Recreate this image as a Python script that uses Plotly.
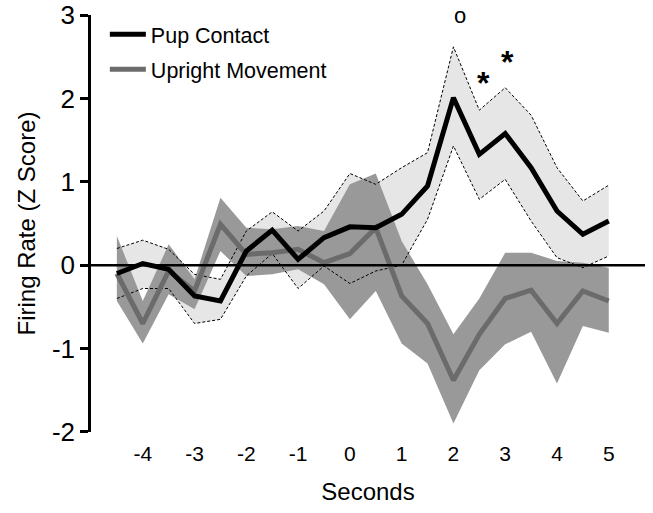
import plotly.graph_objects as go

seconds = [-4.5, -4, -3.5, -3, -2.5, -2, -1.5, -1, -0.5, 0, 0.5, 1, 1.5, 2, 2.5, 3, 3.5, 4, 4.5, 5]

pup = [-0.1, 0.02, -0.05, -0.37, -0.43, 0.17, 0.42, 0.07, 0.33, 0.46, 0.45, 0.61, 0.95, 2.01, 1.33, 1.58, 1.17, 0.65, 0.37, 0.53]
pup_upper = [0.2, 0.3, 0.19, -0.11, -0.17, 0.41, 0.64, 0.41, 0.65, 1.1, 0.97, 1.17, 1.35, 2.62, 1.86, 2.13, 1.8, 1.17, 0.77, 0.96]
pup_lower = [-0.4, -0.28, -0.28, -0.7, -0.65, -0.13, 0.14, -0.28, -0.01, -0.22, -0.07, 0.0, 0.55, 1.43, 0.79, 1.03, 0.53, 0.09, -0.03, 0.11]

upright = [-0.1, -0.7, -0.07, -0.31, 0.49, 0.13, 0.15, 0.19, 0.03, 0.14, 0.45, -0.37, -0.7, -1.38, -0.83, -0.4, -0.3, -0.7, -0.31, -0.43]
upright_upper = [0.35, -0.43, 0.25, -0.17, 0.81, 0.45, 0.43, 0.47, 0.41, 0.97, 1.1, 0.29, -0.23, -0.83, -0.4, 0.15, 0.15, 0.05, 0.03, -0.03]
upright_lower = [-0.43, -0.94, -0.35, -0.53, 0.17, -0.13, -0.11, -0.05, -0.23, -0.65, -0.31, -0.94, -1.18, -1.9, -1.26, -0.95, -0.8, -1.42, -0.73, -0.81]

x_ticks = [-4, -3, -2, -1, 0, 1, 2, 3, 4, 5]
y_ticks = [-2, -1, 0, 1, 2, 3]

sig_x = [2.13, 2.58, 3.04]
sig_y = [2.97, 2.22, 2.48]
sig_labels = ["o", "*", "*"]

FONT = "Liberation Sans, Arial, Helvetica, sans-serif"

fig = go.Figure()

# light band (pup contact SEM)
fig.add_trace(go.Scatter(
    x=seconds + seconds[::-1], y=pup_upper + pup_lower[::-1],
    fill="toself", fillcolor="#e6e6e6", line=dict(width=0),
    mode="lines", showlegend=False, hoverinfo="skip"))
# dark band (upright SEM)
fig.add_trace(go.Scatter(
    x=seconds + seconds[::-1], y=upright_upper + upright_lower[::-1],
    fill="toself", fillcolor="#999999", line=dict(width=0),
    mode="lines", showlegend=False, hoverinfo="skip"))
# dashed bounds
for arr in (pup_upper, pup_lower):
    fig.add_trace(go.Scatter(
        x=seconds, y=arr, mode="lines",
        line=dict(color="black", width=1, dash="3px,2px"),
        showlegend=False, hoverinfo="skip"))

fig.add_trace(go.Scatter(
    x=seconds, y=upright, mode="lines", name="Upright Movement",
    line=dict(color="#6b6b6b", width=5), legend="legend2"))
fig.add_trace(go.Scatter(
    x=seconds, y=pup, mode="lines", name="Pup Contact",
    line=dict(color="black", width=5), legend="legend"))

# zero line
fig.add_hline(y=0, line=dict(color="black", width=2.5), layer="above")

for sx, sy, sl in zip(sig_x, sig_y, sig_labels):
    if sl == "*":
        fig.add_annotation(x=sx, y=sy, text="<b>*</b>", showarrow=False, yshift=-3,
                           font=dict(family=FONT, size=32, color="black"))
    else:
        fig.add_annotation(x=sx, y=sy, text=sl, showarrow=False, yshift=2,
                           font=dict(family=FONT, size=22, color="black"))

fig.update_layout(
    width=653, height=513,
    margin=dict(l=91, r=8, t=15, b=81, autoexpand=False),
    paper_bgcolor="white", plot_bgcolor="white",
    font=dict(family=FONT, color="black"),
    legend=dict(x=0.025, y=0.954, xanchor="left", yanchor="middle", itemwidth=36,
                font=dict(size=21.5, family=FONT), bgcolor="rgba(0,0,0,0)"),
    legend2=dict(x=0.025, y=0.870, xanchor="left", yanchor="middle", itemwidth=36,
                 font=dict(size=21.5, family=FONT), bgcolor="rgba(0,0,0,0)"),
    xaxis=dict(range=[-5, 5.7], tickvals=x_ticks, ticktext=[str(v) for v in x_ticks],
               showgrid=False, zeroline=False, automargin=False,
               showline=False, ticks="outside", tickcolor="rgba(0,0,0,0)", ticklen=3,
               tickfont=dict(size=21, family=FONT),
               title=dict(text="Seconds", font=dict(size=24, family=FONT), standoff=18)),
    yaxis=dict(range=[-2.002, 3.002], tickvals=y_ticks, ticktext=[str(v) for v in y_ticks],
               showgrid=False, zeroline=False, automargin=False,
               showline=True, linecolor="black", linewidth=2.5,
               ticks="outside", ticklen=8, tickwidth=2.5, tickcolor="black",
               tickfont=dict(size=26, family=FONT),
               title=dict(text="Firing Rate (Z Score)", font=dict(size=24, family=FONT), standoff=10)),
)

fig.write_html("out.html")
